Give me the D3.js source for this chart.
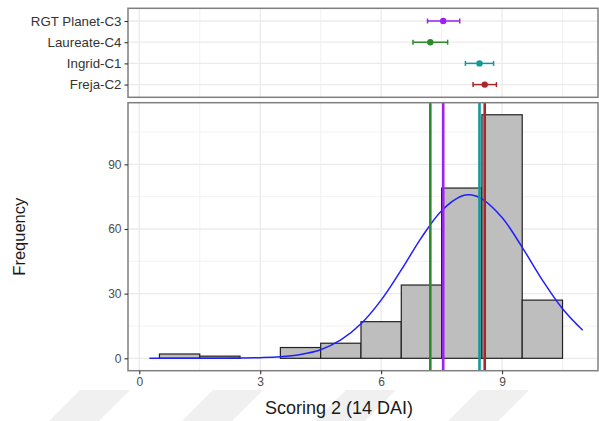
<!DOCTYPE html>
<html>
<head>
<meta charset="utf-8">
<script src="https://d3js.org/d3.v7.min.js"></script>
<style>
  body { margin: 0; background: #fff; }
  svg text { font-family: "Liberation Sans", Arial, sans-serif; }
</style>
</head>
<body>
<div id="chart"></div>
<script>
// histogram bins (centre, count), bin width 1
const binCenters = [1, 2, 3, 4, 5, 6, 7, 8, 9, 10];
const binCounts = [2, 1, 0, 5, 7, 17, 34, 79, 113, 27];

// fitted normal curve
const curveX = [0.25, 1, 2, 3, 3.5, 4, 4.5, 5, 5.5, 6, 6.5, 7, 7.5, 8, 8.25, 8.5, 9, 9.5, 10, 10.5, 11];
const curveY = [0, 0, 0.05, 0.3, 0.7, 1.8, 4, 8.5, 16, 27, 41, 56, 68.5, 75.3, 75.8, 74, 65.3, 51.5, 36.3, 23, 13];

// cultivar means with error bars
const cultivars = ["RGT Planet-C3", "Laureate-C4", "Ingrid-C1", "Freja-C2"];
const means = [7.54, 7.22, 8.44, 8.57];
const lows = [7.15, 6.79, 8.09, 8.28];
const highs = [7.95, 7.65, 8.79, 8.86];
const colors = ["#a020f0", "#2a8c2a", "#14979a", "#a8282a"];

const xTicks = [0, 3, 6, 9];
const xMinor = [1.5, 4.5, 7.5, 10.5];
const yTicks = [0, 30, 60, 90];
const yMinor = [15, 45, 75, 105];

const width = 599, height = 421;
const left = 128, right = 598;
const top1 = 8.3, bot1 = 97.3;
const top2 = 102.7, bot2 = 370.7;

const svg = d3.select("#chart").append("svg")
    .attr("width", width)
    .attr("height", height);

// faint watermark stripes behind the x title
const wm = svg.append("g").attr("fill", "#f0f0f0");
[80, 213, 346, 479].forEach(x0 => {
    wm.append("path").attr("d", `M${x0 - 31},421 L${x0},390 L${x0 + 50},390 L${x0 + 19},421 Z`);
});

const x = d3.scaleLinear().domain([-0.28, 11.38]).range([left, right]);
const y = d3.scaleLinear().domain([-5.75, 118.6]).range([bot2, top2]);
const yCat = d3.scalePoint().domain(cultivars).range([top1, bot1]).padding(0.6);

// ---- top panel ----
const p1 = svg.append("g");
p1.append("rect").attr("x", left).attr("y", top1).attr("width", right - left).attr("height", bot1 - top1).attr("fill", "#fff");
p1.selectAll(".vminor").data(xMinor).join("line")
    .attr("x1", d => x(d)).attr("x2", d => x(d)).attr("y1", top1).attr("y2", bot1)
    .attr("stroke", "#f2f2f2").attr("stroke-width", 1);
p1.selectAll(".vmajor").data(xTicks).join("line")
    .attr("x1", d => x(d)).attr("x2", d => x(d)).attr("y1", top1).attr("y2", bot1)
    .attr("stroke", "#ebebeb").attr("stroke-width", 1.3);
p1.selectAll(".hmajor").data(cultivars).join("line")
    .attr("x1", left).attr("x2", right).attr("y1", d => yCat(d)).attr("y2", d => yCat(d))
    .attr("stroke", "#ebebeb").attr("stroke-width", 1.3);

const eb = p1.selectAll(".eb").data(cultivars).join("g")
    .attr("stroke", (d, i) => colors[i]).attr("fill", (d, i) => colors[i]);
eb.append("line")
    .attr("x1", (d, i) => x(lows[i])).attr("x2", (d, i) => x(highs[i]))
    .attr("y1", d => yCat(d)).attr("y2", d => yCat(d)).attr("stroke-width", 1.5);
eb.append("line")
    .attr("x1", (d, i) => x(lows[i])).attr("x2", (d, i) => x(lows[i]))
    .attr("y1", d => yCat(d) - 2.5).attr("y2", d => yCat(d) + 2.5).attr("stroke-width", 1.5);
eb.append("line")
    .attr("x1", (d, i) => x(highs[i])).attr("x2", (d, i) => x(highs[i]))
    .attr("y1", d => yCat(d) - 2.5).attr("y2", d => yCat(d) + 2.5).attr("stroke-width", 1.5);
eb.append("circle")
    .attr("cx", (d, i) => x(means[i])).attr("cy", d => yCat(d)).attr("r", 3.2).attr("stroke", "none");

p1.append("rect").attr("x", left).attr("y", top1).attr("width", right - left).attr("height", bot1 - top1)
    .attr("fill", "none").attr("stroke", "#7f7f7f").attr("stroke-width", 1.5);

const ax1 = svg.append("g").attr("transform", `translate(${left},0)`)
    .call(d3.axisLeft(yCat).tickSize(3.5).tickPadding(3));
ax1.select(".domain").remove();
ax1.selectAll(".tick line").attr("stroke", "#333").attr("stroke-width", 1.1);
ax1.selectAll("text").attr("font-size", 13.3).attr("fill", "#333");

// ---- bottom panel ----
const p2 = svg.append("g");
p2.selectAll(".vminor").data(xMinor).join("line")
    .attr("x1", d => x(d)).attr("x2", d => x(d)).attr("y1", top2).attr("y2", bot2)
    .attr("stroke", "#f2f2f2").attr("stroke-width", 1);
p2.selectAll(".hminor").data(yMinor).join("line")
    .attr("x1", left).attr("x2", right).attr("y1", d => y(d)).attr("y2", d => y(d))
    .attr("stroke", "#f2f2f2").attr("stroke-width", 1);
p2.selectAll(".vmajor").data(xTicks).join("line")
    .attr("x1", d => x(d)).attr("x2", d => x(d)).attr("y1", top2).attr("y2", bot2)
    .attr("stroke", "#ebebeb").attr("stroke-width", 1.3);
p2.selectAll(".hmajor").data(yTicks).join("line")
    .attr("x1", left).attr("x2", right).attr("y1", d => y(d)).attr("y2", d => y(d))
    .attr("stroke", "#ebebeb").attr("stroke-width", 1.3);

p2.selectAll(".bar").data(binCenters).join("rect")
    .attr("x", d => x(d - 0.5)).attr("width", d => x(d + 0.5) - x(d - 0.5))
    .attr("y", (d, i) => y(binCounts[i])).attr("height", (d, i) => y(0) - y(binCounts[i]))
    .attr("fill", "#bebebe").attr("stroke", "#222").attr("stroke-width", 1.2);

const line = d3.line().x((d, i) => x(curveX[i])).y(d => y(d)).curve(d3.curveCatmullRom);
p2.append("path").datum(curveY).attr("d", line)
    .attr("fill", "none").attr("stroke", "#1f1fff").attr("stroke-width", 1.5);

p2.selectAll(".vline").data(means).join("line")
    .attr("x1", d => x(d)).attr("x2", d => x(d)).attr("y1", top2).attr("y2", bot2)
    .attr("stroke", (d, i) => colors[i]).attr("stroke-width", 2.6);

p2.append("rect").attr("x", left).attr("y", top2).attr("width", right - left).attr("height", bot2 - top2)
    .attr("fill", "none").attr("stroke", "#7f7f7f").attr("stroke-width", 1.5);

const axX = svg.append("g").attr("transform", `translate(0,${bot2})`)
    .call(d3.axisBottom(x).tickValues(xTicks).tickSize(3.5).tickPadding(3));
axX.select(".domain").remove();
axX.selectAll(".tick line").attr("stroke", "#333").attr("stroke-width", 1.1);
axX.selectAll("text").attr("font-size", 12).attr("fill", "#4d4d4d");

const axY = svg.append("g").attr("transform", `translate(${left},0)`)
    .call(d3.axisLeft(y).tickValues(yTicks).tickSize(3.5).tickPadding(3));
axY.select(".domain").remove();
axY.selectAll(".tick line").attr("stroke", "#333").attr("stroke-width", 1.1);
axY.selectAll("text").attr("font-size", 12).attr("fill", "#4d4d4d");

svg.append("text")
    .attr("x", 339).attr("y", 414)
    .attr("text-anchor", "middle").attr("font-size", 18).attr("fill", "#1a1a1a")
    .text("Scoring 2 (14 DAI)");

svg.append("text")
    .attr("transform", `translate(25,${(top2 + bot2) / 2}) rotate(-90)`)
    .attr("text-anchor", "middle").attr("font-size", 16.5).attr("fill", "#1a1a1a")
    .text("Frequency");
</script>
</body>
</html>
